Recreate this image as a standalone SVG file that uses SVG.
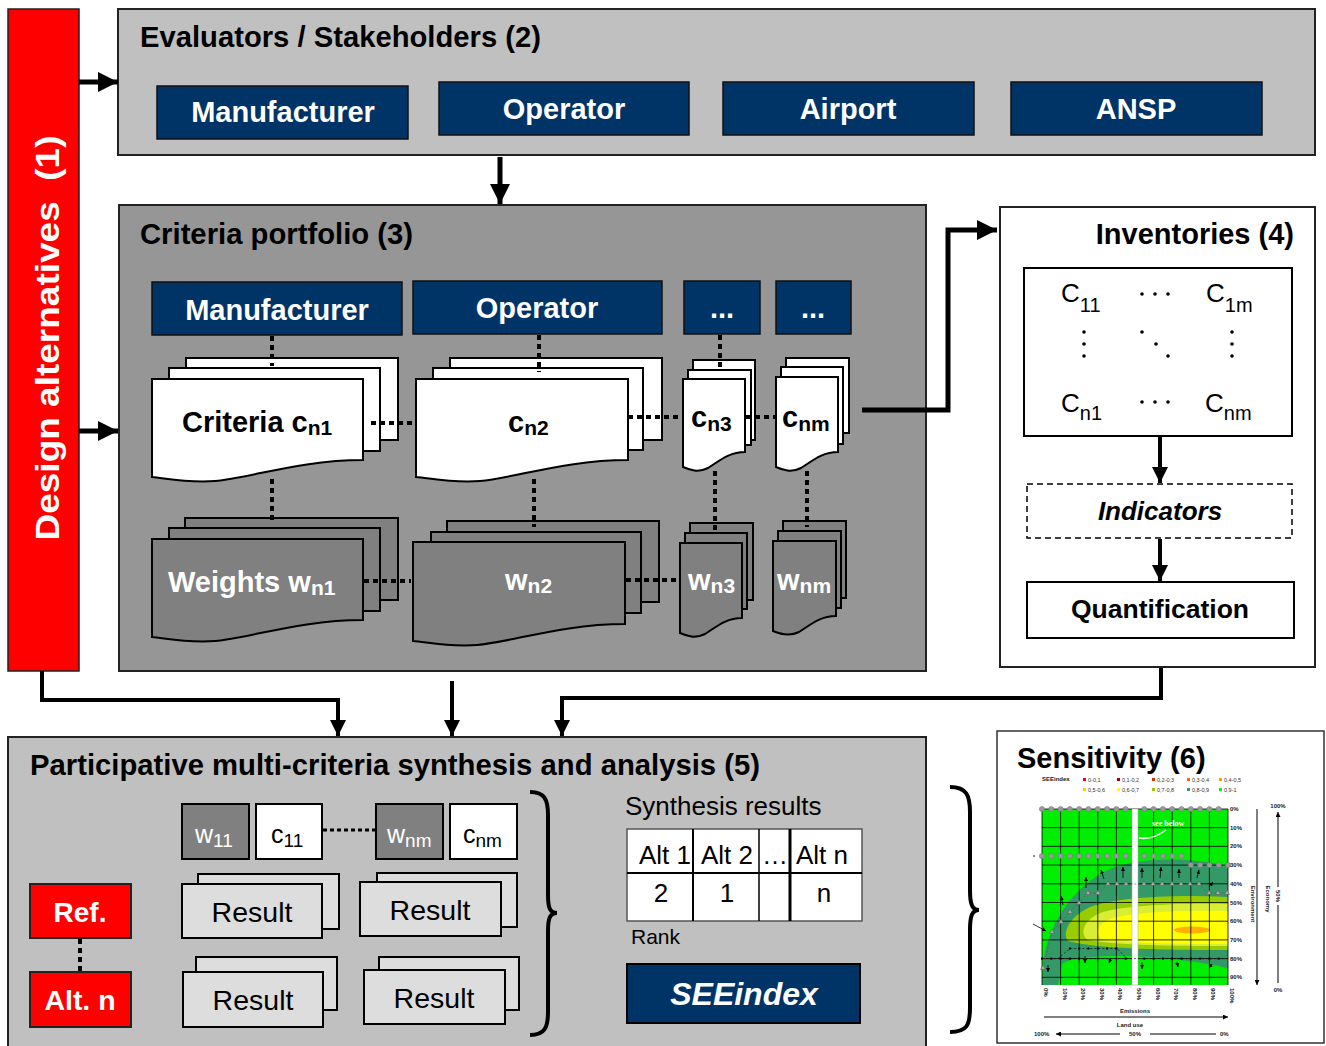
<svg xmlns="http://www.w3.org/2000/svg" width="1326" height="1046" viewBox="0 0 1326 1046">
<defs>
<style>
.t{font-family:"Liberation Sans",Arial,sans-serif}
.b{font-weight:bold}
.i{font-style:italic}
.w{fill:#fff}
.k{fill:#000}
.navy{fill:#003366;stroke:#111;stroke-width:1.5}
.conn{stroke:#000;stroke-width:5;fill:none}
.conn4{stroke:#000;stroke-width:4;fill:none}
.dot{stroke:#000;stroke-width:4;stroke-dasharray:5 4;fill:none}
.sw{fill:#fff;stroke:#000;stroke-width:2}
.sg{fill:#808080;stroke:#000;stroke-width:2}
.res{fill:#dddddd;stroke:#000;stroke-width:2}
.grid{stroke:#000;stroke-width:0.8;fill:none}
.tiny{font-family:"Liberation Sans",Arial,sans-serif;font-size:6px;font-weight:bold;fill:#222}
</style>
<marker id="ah" viewBox="0 0 10 10" refX="10" refY="5" markerWidth="4" markerHeight="4" orient="auto"><path d="M0,0 L10,5 L0,10 z" fill="#000"/></marker>
<marker id="sa" viewBox="0 0 10 10" refX="10" refY="5" markerWidth="5" markerHeight="5" orient="auto"><path d="M0,0 L10,5 L0,10 z" fill="#000"/></marker>
</defs>
<rect width="1326" height="1046" fill="#fff"/>

<!-- Design alternatives -->
<g id="design-alternatives">
<rect x="8" y="9" width="71" height="662" fill="#ff0000" stroke="#222" stroke-width="1.5"/>
<text class="t b w" font-size="34" text-anchor="middle" transform="translate(59,338) rotate(-90)" textLength="405" lengthAdjust="spacingAndGlyphs" xml:space="preserve">Design alternatives  (1)</text>
</g>

<!-- Evaluators -->
<g id="evaluators">
<rect x="118" y="9" width="1197" height="146" fill="#c0c0c0" stroke="#222" stroke-width="2"/>
<text class="t b" x="140" y="47" font-size="29" textLength="401" lengthAdjust="spacingAndGlyphs">Evaluators / Stakeholders (2)</text>
<g id="ev-manufacturer"><rect class="navy" x="157" y="86" width="251" height="53"/><text class="t b w" x="283" y="122" font-size="29" text-anchor="middle">Manufacturer</text></g>
<g id="ev-operator"><rect class="navy" x="439" y="82" width="250" height="53"/><text class="t b w" x="564" y="119" font-size="29" text-anchor="middle">Operator</text></g>
<g id="ev-airport"><rect class="navy" x="723" y="82" width="251" height="53"/><text class="t b w" x="848" y="119" font-size="29" text-anchor="middle">Airport</text></g>
<g id="ev-ansp"><rect class="navy" x="1011" y="82" width="251" height="53"/><text class="t b w" x="1136" y="119" font-size="29" text-anchor="middle">ANSP</text></g>
</g>

<!-- Criteria portfolio -->
<g id="criteria-portfolio">
<rect x="119" y="205" width="807" height="466" fill="#969696" stroke="#222" stroke-width="2"/>
<text class="t b" x="140" y="244" font-size="29" textLength="273" lengthAdjust="spacingAndGlyphs">Criteria portfolio (3)</text>
<g id="cp-manufacturer"><rect class="navy" x="152" y="282" width="250" height="53"/><text class="t b w" x="277" y="320" font-size="29" text-anchor="middle">Manufacturer</text></g>
<g id="cp-operator"><rect class="navy" x="413" y="281" width="249" height="53"/><text class="t b w" x="537" y="318" font-size="29" text-anchor="middle">Operator</text></g>
<g id="cp-more1"><rect class="navy" x="684" y="281" width="76" height="53"/><text class="t b w" x="722" y="318" font-size="29" text-anchor="middle">...</text></g>
<g id="cp-more2"><rect class="navy" x="776" y="281" width="75" height="53"/><text class="t b w" x="813" y="318" font-size="29" text-anchor="middle">...</text></g>
</g>

<!-- criteria documents -->
<g id="doc-cn1">
<rect class="sw" x="186" y="358" width="212" height="82"/>
<rect class="sw" x="169" y="368" width="211" height="83"/>
<path class="sw" d="M152,379 H363 V460 C300,460 250,478 215,481 C185,483 165,478 152,477 Z"/>
<text class="t b" x="182" y="432" font-size="29">Criteria c<tspan font-size="21" dy="3">n1</tspan></text>
</g>
<g id="doc-cn2">
<rect class="sw" x="450" y="358" width="212" height="82"/>
<rect class="sw" x="433" y="368" width="210" height="82"/>
<path class="sw" d="M416,379 H628 V460 C565,460 515,478 480,481 C450,483 430,478 416,477 Z"/>
<text class="t b" x="508" y="432" font-size="29">c<tspan font-size="21" dy="3">n2</tspan></text>
</g>
<g id="doc-cn3">
<rect class="sw" x="693" y="360" width="62" height="80"/>
<rect class="sw" x="688" y="370" width="63" height="75"/>
<path class="sw" d="M683,379 H745 V452 C728,452 718,462 708,468 C698,473 690,470 683,467 Z"/>
<text class="t b" x="691" y="427" font-size="29">c<tspan font-size="21" dy="4">n3</tspan></text>
</g>
<g id="doc-cnm">
<rect class="sw" x="786" y="358" width="63" height="75"/>
<rect class="sw" x="781" y="367" width="62" height="77"/>
<path class="sw" d="M776,377 H838 V452 C821,452 811,462 801,468 C791,473 783,470 776,467 Z"/>
<text class="t b" x="782" y="427" font-size="29">c<tspan font-size="21" dy="4">nm</tspan></text>
</g>
<g id="doc-wn1">
<rect class="sg" x="185" y="518" width="213" height="82"/>
<rect class="sg" x="169" y="528" width="211" height="83"/>
<path class="sg" d="M152,539 H363 V620 C300,620 250,638 215,641 C185,643 165,638 152,637 Z"/>
<text class="t b w" x="168" y="592" font-size="29">Weights w<tspan font-size="21" dy="3">n1</tspan></text>
</g>
<g id="doc-wn2">
<rect class="sg" x="447" y="521" width="212" height="81"/>
<rect class="sg" x="431" y="532" width="210" height="81"/>
<path class="sg" d="M413,542 H625 V624 C562,624 512,642 477,645 C447,647 427,642 413,641 Z"/>
<text class="t b w" x="505" y="590" font-size="29">w<tspan font-size="21" dy="3">n2</tspan></text>
</g>
<g id="doc-wn3">
<rect class="sg" x="690" y="523" width="63" height="77"/>
<rect class="sg" x="685" y="533" width="62" height="76"/>
<path class="sg" d="M680,543 H742 V618 C725,618 715,628 705,634 C695,639 687,636 680,633 Z"/>
<text class="t b w" x="688" y="590" font-size="29">w<tspan font-size="21" dy="3">n3</tspan></text>
</g>
<g id="doc-wnm">
<rect class="sg" x="783" y="521" width="63" height="77"/>
<rect class="sg" x="778" y="531" width="63" height="77"/>
<path class="sg" d="M773,541 H836 V616 C819,616 809,626 799,632 C789,637 780,634 773,631 Z"/>
<text class="t b w" x="777" y="590" font-size="29">w<tspan font-size="21" dy="3">nm</tspan></text>
</g>

<!-- Inventories -->
<g id="inventories">
<rect x="1000" y="207" width="315" height="460" fill="#fff" stroke="#222" stroke-width="2"/>
<text class="t b" x="1294" y="244" font-size="29" text-anchor="end">Inventories (4)</text>
<g id="inv-matrix">
<rect x="1024" y="268" width="268" height="168" fill="#fff" stroke="#000" stroke-width="2"/>
<text class="t" x="1061" y="302" font-size="26">C<tspan font-size="20" dy="10">11</tspan></text>
<text class="t" x="1206" y="302" font-size="26">C<tspan font-size="20" dy="10">1m</tspan></text>
<text class="t" x="1061" y="412" font-size="26">C<tspan font-size="20" dy="8">n1</tspan></text>
<text class="t" x="1205" y="412" font-size="26">C<tspan font-size="20" dy="8">nm</tspan></text>
<g fill="#000">
<circle cx="1142" cy="294" r="1.8"/><circle cx="1155" cy="294" r="1.8"/><circle cx="1168" cy="294" r="1.8"/>
<circle cx="1142" cy="402" r="1.8"/><circle cx="1155" cy="402" r="1.8"/><circle cx="1168" cy="402" r="1.8"/>
<circle cx="1084" cy="332" r="1.8"/><circle cx="1084" cy="344" r="1.8"/><circle cx="1084" cy="356" r="1.8"/>
<circle cx="1232" cy="332" r="1.8"/><circle cx="1232" cy="344" r="1.8"/><circle cx="1232" cy="356" r="1.8"/>
<circle cx="1142" cy="332" r="1.8"/><circle cx="1156" cy="344" r="1.8"/><circle cx="1168" cy="356" r="1.8"/>
</g>
</g>
<g id="inv-indicators">
<rect x="1027" y="484" width="265" height="54" fill="#fff" stroke="#000" stroke-width="1.5" stroke-dasharray="6 4"/>
<text class="t b i" x="1160" y="520" font-size="26" text-anchor="middle">Indicators</text>
</g>
<g id="inv-quantification">
<rect x="1027" y="582" width="267" height="56" fill="#fff" stroke="#000" stroke-width="2"/>
<text class="t b" x="1160" y="618" font-size="26.5" text-anchor="middle">Quantification</text>
</g>
</g>

<!-- Synthesis -->
<g id="synthesis">
<rect x="8" y="737" width="918" height="320" fill="#c0c0c0" stroke="#222" stroke-width="2"/>
<text class="t b" x="30" y="775" font-size="29" textLength="730" lengthAdjust="spacingAndGlyphs">Participative multi-criteria synthesis and analysis (5)</text>
<g id="syn-w11"><rect x="182" y="804" width="67" height="55" fill="#808080" stroke="#000" stroke-width="2"/><text class="t w" x="195" y="843" font-size="25">w<tspan font-size="19" dy="4">11</tspan></text></g>
<g id="syn-c11"><rect x="256" y="804" width="66" height="55" fill="#fff" stroke="#000" stroke-width="2"/><text class="t" x="271" y="843" font-size="25">c<tspan font-size="19" dy="4">11</tspan></text></g>
<g id="syn-wnm"><rect x="376" y="804" width="67" height="55" fill="#808080" stroke="#000" stroke-width="2"/><text class="t w" x="387" y="843" font-size="25">w<tspan font-size="19" dy="4">nm</tspan></text></g>
<g id="syn-cnm"><rect x="450" y="804" width="67" height="55" fill="#fff" stroke="#000" stroke-width="2"/><text class="t" x="463" y="843" font-size="25">c<tspan font-size="19" dy="4">nm</tspan></text></g>
<g id="syn-ref"><rect x="30" y="884" width="101" height="54" fill="#ff0000" stroke="#222" stroke-width="2"/><text class="t b w" x="80" y="922" font-size="28" text-anchor="middle">Ref.</text></g>
<g id="syn-altn"><rect x="30" y="972" width="101" height="55" fill="#ff0000" stroke="#222" stroke-width="2"/><text class="t b w" x="80" y="1010" font-size="28.5" text-anchor="middle">Alt. n</text></g>
<g id="syn-result1"><rect class="res" x="198" y="874" width="141" height="55"/><rect class="res" x="182" y="884" width="140" height="54"/><text class="t" x="252" y="922" font-size="28.5" text-anchor="middle">Result</text></g>
<g id="syn-result2"><rect class="res" x="377" y="873" width="140" height="54"/><rect class="res" x="360" y="882" width="141" height="54"/><text class="t" x="430" y="920" font-size="28.5" text-anchor="middle">Result</text></g>
<g id="syn-result3"><rect class="res" x="196" y="957" width="141" height="53"/><rect class="res" x="183" y="972" width="140" height="55"/><text class="t" x="253" y="1010" font-size="28.5" text-anchor="middle">Result</text></g>
<g id="syn-result4"><rect class="res" x="379" y="957" width="140" height="53"/><rect class="res" x="364" y="970" width="141" height="54"/><text class="t" x="434" y="1008" font-size="28.5" text-anchor="middle">Result</text></g>
<path d="M530,792 C545,792 548,800 548,815 L548,895 C548,908 550,913 557,913 C550,913 548,918 548,931 L548,1012 C548,1027 545,1035 530,1035" fill="none" stroke="#000" stroke-width="4"/>
<g id="syn-results">
<text class="t" x="625" y="815" font-size="26">Synthesis results</text>
<rect x="627" y="829" width="235" height="92" fill="#fff" stroke="#555" stroke-width="1.5"/>
<line x1="627" y1="873" x2="862" y2="873" stroke="#000" stroke-width="2"/>
<line x1="693" y1="829" x2="693" y2="921" stroke="#000" stroke-width="2"/>
<line x1="759" y1="829" x2="759" y2="921" stroke="#000" stroke-width="1.5"/>
<line x1="790" y1="829" x2="790" y2="921" stroke="#000" stroke-width="3"/>
<text class="t" x="665" y="864" font-size="26" text-anchor="middle">Alt 1</text>
<text class="t" x="727" y="864" font-size="26" text-anchor="middle">Alt 2</text>
<text class="t" x="775" y="864" font-size="26" text-anchor="middle">…</text>
<text class="t" x="822" y="864" font-size="26" text-anchor="middle">Alt n</text>
<text class="t" x="661" y="902" font-size="26" text-anchor="middle">2</text>
<text class="t" x="727" y="902" font-size="26" text-anchor="middle">1</text>
<text class="t" x="824" y="902" font-size="26" text-anchor="middle">n</text>
<text class="t" x="631" y="944" font-size="21">Rank</text>
</g>
<g id="syn-seeindex"><rect x="627" y="964" width="233" height="59" fill="#003366" stroke="#000" stroke-width="2"/><text class="t b i w" x="744" y="1005" font-size="32" text-anchor="middle">SEEindex</text></g>
</g>

<path d="M950,787 C967,787 970,796 970,812 L970,890 C970,904 972,910 979,910 C972,910 970,916 970,930 L970,1008 C970,1025 967,1032 950,1032" fill="none" stroke="#000" stroke-width="4"/>

<!-- dotted links -->
<g id="dotted-links">
<line class="dot" x1="272" y1="336" x2="272" y2="366"/>
<line class="dot" x1="539" y1="335" x2="539" y2="372"/>
<line class="dot" x1="720" y1="335" x2="720" y2="368"/>
<line class="dot" x1="272" y1="479" x2="272" y2="521"/>
<line class="dot" x1="534" y1="479" x2="534" y2="527"/>
<line class="dot" x1="715" y1="471" x2="715" y2="530"/>
<line class="dot" x1="807" y1="471" x2="807" y2="527"/>
<line class="dot" x1="371" y1="423" x2="414" y2="423"/>
<line class="dot" x1="628" y1="417" x2="683" y2="417"/>
<line class="dot" x1="746" y1="417" x2="776" y2="417"/>
<line class="dot" x1="364" y1="581" x2="411" y2="581"/>
<line class="dot" x1="626" y1="580" x2="680" y2="580"/>
<line x1="323" y1="830" x2="375" y2="830" stroke="#000" stroke-width="3" stroke-dasharray="4 3"/>
<line x1="80" y1="939" x2="80" y2="972" stroke="#000" stroke-width="4" stroke-dasharray="5 4"/>
</g>

<!-- Sensitivity -->
<g id="sensitivity">
<rect x="997" y="731" width="327" height="312" fill="#fff" stroke="#333" stroke-width="1.5"/>
<text class="t b" x="1017" y="768" font-size="29">Sensitivity (6)</text>
<g id="legend">
<text class="tiny" x="1042" y="781">SEEindex</text>
<g font-family="Liberation Sans,Arial,sans-serif" font-size="5.5" fill="#333">
<rect x="1083" y="778" width="3" height="3" fill="#ff0000"/><text x="1088" y="782">0-0,1</text>
<rect x="1117" y="778" width="3" height="3" fill="#990000"/><text x="1122" y="782">0,1-0,2</text>
<rect x="1152" y="778" width="3" height="3" fill="#cc3300"/><text x="1157" y="782">0,2-0,3</text>
<rect x="1187" y="778" width="3" height="3" fill="#ff6600"/><text x="1192" y="782">0,3-0,4</text>
<rect x="1219" y="778" width="3" height="3" fill="#ff9900"/><text x="1224" y="782">0,4-0,5</text>
<rect x="1083" y="788" width="3" height="3" fill="#ffcc00"/><text x="1088" y="792">0,5-0,6</text>
<rect x="1117" y="788" width="3" height="3" fill="#ffff00"/><text x="1122" y="792">0,6-0,7</text>
<rect x="1152" y="788" width="3" height="3" fill="#99cc00"/><text x="1157" y="792">0,7-0,8</text>
<rect x="1187" y="788" width="3" height="3" fill="#339966"/><text x="1192" y="792">0,8-0,9</text>
<rect x="1219" y="788" width="3" height="3" fill="#00ff00"/><text x="1224" y="792">0,9-1</text>
</g>
</g>
<rect x="1042" y="809" width="186" height="176" fill="#00ee00"/>
<path d="M1042,985 L1043,962 C1050,920 1075,885 1110,869 C1140,857 1190,857 1228,866 L1228,968 C1200,962 1160,956 1120,956 C1090,956 1070,958 1062,964 L1058,985 Z" fill="#339966"/>
<path d="M1228,897 C1170,894 1110,898 1088,908 C1068,918 1062,934 1068,941 C1100,950 1190,950 1228,950 Z" fill="#99cc00"/>
<path d="M1228,904 C1170,903 1115,906 1098,914 C1082,922 1080,935 1088,940 C1120,946 1190,946 1228,946 Z" fill="#d9ee33"/>
<path d="M1228,911 C1170,910 1125,913 1108,920 C1094,927 1096,936 1104,940 C1140,944 1200,944 1228,944 Z" fill="#ffff00"/>
<ellipse cx="1192" cy="930" rx="18" ry="3.5" fill="#ffb000"/>
<g class="grid">
<path d="M1042,809V985M1060.6,809V985M1079.2,809V985M1097.8,809V985M1116.4,809V985M1135,809V985M1153.6,809V985M1172.2,809V985M1190.8,809V985M1209.4,809V985M1228,809V985"/>
<path d="M1042,809H1228M1042,827.7H1228M1042,846.4H1228M1042,865.1H1228M1042,883.8H1228M1042,902.5H1228M1042,921.2H1228M1042,939.9H1228M1042,958.6H1228M1042,977.3H1228"/>
</g>
<rect x="1132" y="809" width="6" height="176" fill="#fff" stroke="#aaa" stroke-width="0.5"/>
<text x="1152" y="826" font-family="Liberation Serif,serif" font-size="8" font-weight="bold" fill="#fff">see below</text>
<path d="M1139,838 C1150,840 1158,836 1166,830" stroke="#fff" stroke-width="1.5" fill="none"/>
<g fill="#999" stroke="#777" stroke-width="0.5">
<circle cx="1042" cy="809" r="2.6"/><circle cx="1051.3" cy="809" r="2.6"/><circle cx="1060.6" cy="809" r="2.6"/><circle cx="1069.9" cy="809" r="2.6"/><circle cx="1079.2" cy="809" r="2.6"/><circle cx="1088.5" cy="809" r="2.6"/><circle cx="1097.8" cy="809" r="2.6"/><circle cx="1107.1" cy="809" r="2.6"/><circle cx="1116.4" cy="809" r="2.6"/><circle cx="1125.7" cy="809" r="2.6"/><circle cx="1144.3" cy="809" r="2.6"/><circle cx="1153.6" cy="809" r="2.6"/><circle cx="1162.9" cy="809" r="2.6"/><circle cx="1172.2" cy="809" r="2.6"/><circle cx="1181.5" cy="809" r="2.6"/><circle cx="1190.8" cy="809" r="2.6"/><circle cx="1200.1" cy="809" r="2.6"/><circle cx="1209.4" cy="809" r="2.6"/><circle cx="1218.7" cy="809" r="2.6"/>
<circle cx="1042" cy="856" r="2.6"/><circle cx="1051.3" cy="856" r="2.6"/><circle cx="1060.6" cy="856" r="2.6"/><circle cx="1069.9" cy="856" r="2.6"/><circle cx="1079.2" cy="856" r="2.6"/><circle cx="1088.5" cy="856" r="2.6"/><circle cx="1097.8" cy="856" r="2.6"/><circle cx="1107.1" cy="856" r="2.6"/><circle cx="1116.4" cy="856" r="2.6"/><circle cx="1125.7" cy="856" r="2.6"/><circle cx="1144.3" cy="856" r="2.6"/><circle cx="1153.6" cy="856" r="2.6"/><circle cx="1162.9" cy="856" r="2.6"/><circle cx="1172.2" cy="856" r="2.6"/><circle cx="1181.5" cy="856" r="2.6"/>
<circle cx="1190.8" cy="865" r="2.6"/><circle cx="1200.1" cy="865" r="2.6"/><circle cx="1209.4" cy="865" r="2.6"/><circle cx="1218.7" cy="865" r="2.6"/><circle cx="1228" cy="865" r="2.6"/>
</g>
<polyline points="1043,968 1052,932 1061,922 1070,912 1079,903 1088,893 1098,893 1108,884 1199,884 1208,893 1228,893" fill="none" stroke="#555" stroke-width="0.6" stroke-dasharray="2 2"/>
<g fill="#aaa" stroke="#555" stroke-width="0.5">
<path d="M1043,965l2.5,4.5h-5z"/><path d="M1052,929l2.5,4.5h-5z"/><path d="M1061,919l2.5,4.5h-5z"/><path d="M1070,909l2.5,4.5h-5z"/><path d="M1079,900l2.5,4.5h-5z"/><path d="M1088,890l2.5,4.5h-5z"/><path d="M1098,890l2.5,4.5h-5z"/><path d="M1108,881l2.5,4.5h-5z"/><path d="M1117,881l2.5,4.5h-5z"/><path d="M1126,881l2.5,4.5h-5z"/><path d="M1144,881l2.5,4.5h-5z"/><path d="M1153,881l2.5,4.5h-5z"/><path d="M1162,881l2.5,4.5h-5z"/><path d="M1172,881l2.5,4.5h-5z"/><path d="M1181,881l2.5,4.5h-5z"/><path d="M1190,881l2.5,4.5h-5z"/><path d="M1199,881l2.5,4.5h-5z"/><path d="M1209,890l2.5,4.5h-5z"/><path d="M1218,890l2.5,4.5h-5z"/><path d="M1227,890l2.5,4.5h-5z"/>
</g>
<g stroke="#000" stroke-width="0.8" marker-end="url(#sa)">
<line x1="1063" y1="905" x2="1061" y2="896"/><line x1="1086" y1="888" x2="1086" y2="877"/><line x1="1104" y1="879" x2="1101" y2="870"/><line x1="1123" y1="878" x2="1123" y2="867"/><line x1="1142" y1="878" x2="1142" y2="868"/><line x1="1160" y1="878" x2="1161" y2="867"/><line x1="1179" y1="878" x2="1179" y2="869"/><line x1="1197" y1="878" x2="1199" y2="870"/><line x1="1209" y1="887" x2="1213" y2="882"/>
<line x1="1048" y1="965" x2="1048" y2="972"/><line x1="1085" y1="956" x2="1085" y2="963"/><line x1="1111" y1="958" x2="1109" y2="963"/><line x1="1142" y1="962" x2="1142" y2="969"/><line x1="1177" y1="962" x2="1178" y2="967"/><line x1="1212" y1="964" x2="1209" y2="968"/>
<line x1="1033" y1="924" x2="1046" y2="931"/>
</g>
<polyline points="1042,958.6 1228,958.6" stroke="#000" stroke-width="0.6" stroke-dasharray="2 2" fill="none"/>
<polyline points="1058,958.6 1070,948.5 1117,948.5 1127,958.6" stroke="#000" stroke-width="0.6" stroke-dasharray="2 2" fill="none"/>
<g fill="#000">
<rect x="1041" y="957.6" width="2" height="2"/><rect x="1050.3" y="957.6" width="2" height="2"/><rect x="1059.6" y="957.6" width="2" height="2"/><rect x="1068.9" y="957.6" width="2" height="2"/><rect x="1078.2" y="957.6" width="2" height="2"/><rect x="1124.7" y="957.6" width="2" height="2"/><rect x="1143.3" y="957.6" width="2" height="2"/><rect x="1152.6" y="957.6" width="2" height="2"/><rect x="1161.9" y="957.6" width="2" height="2"/><rect x="1171.2" y="957.6" width="2" height="2"/><rect x="1180.5" y="957.6" width="2" height="2"/><rect x="1189.8" y="957.6" width="2" height="2"/><rect x="1199.1" y="957.6" width="2" height="2"/><rect x="1208.4" y="957.6" width="2" height="2"/><rect x="1217.7" y="957.6" width="2" height="2"/>
<rect x="1069" y="947.5" width="2" height="2"/><rect x="1078.2" y="947.5" width="2" height="2"/><rect x="1087.5" y="947.5" width="2" height="2"/><rect x="1096.8" y="947.5" width="2" height="2"/><rect x="1106.1" y="947.5" width="2" height="2"/><rect x="1115.4" y="947.5" width="2" height="2"/>
<circle cx="1034" cy="856" r="0.8"/>
</g>
<g class="tiny" font-size="5.5">
<text x="1230" y="811">0%</text><text x="1230" y="830">10%</text><text x="1230" y="848">20%</text><text x="1230" y="867">30%</text><text x="1230" y="886">40%</text><text x="1230" y="905">50%</text><text x="1230" y="923">60%</text><text x="1230" y="942">70%</text><text x="1230" y="961">80%</text><text x="1230" y="979">90%</text>
</g>
<g class="tiny" font-size="5.5">
<text transform="translate(1044,988) rotate(90)">0%</text><text transform="translate(1062.6,988) rotate(90)">10%</text><text transform="translate(1081.2,988) rotate(90)">20%</text><text transform="translate(1099.8,988) rotate(90)">30%</text><text transform="translate(1118.4,988) rotate(90)">40%</text><text transform="translate(1137,988) rotate(90)">50%</text><text transform="translate(1155.6,988) rotate(90)">60%</text><text transform="translate(1174.2,988) rotate(90)">70%</text><text transform="translate(1192.8,988) rotate(90)">80%</text><text transform="translate(1211.4,988) rotate(90)">90%</text><text transform="translate(1230,988) rotate(90)">100%</text>
</g>
<text class="tiny" x="1135" y="1013" text-anchor="middle">Emissions</text>
<line x1="1044" y1="1017" x2="1228" y2="1017" stroke="#000" stroke-width="1" marker-end="url(#sa)"/>
<text class="tiny" x="1130" y="1027" text-anchor="middle">Land use</text>
<text class="tiny" x="1034" y="1036">100%</text>
<line x1="1120" y1="1034" x2="1056" y2="1034" stroke="#000" stroke-width="1" marker-end="url(#sa)"/>
<text class="tiny" x="1135" y="1036" text-anchor="middle">50%</text>
<line x1="1150" y1="1034" x2="1216" y2="1034" stroke="#000" stroke-width="1"/>
<text class="tiny" x="1220" y="1036" fill="#777">0%</text>
<text class="tiny" transform="translate(1251,904) rotate(90)" text-anchor="middle">Environment</text>
<line x1="1257" y1="809" x2="1257" y2="985" stroke="#000" stroke-width="1" marker-end="url(#sa)"/>
<text class="tiny" transform="translate(1266,899) rotate(90)" text-anchor="middle">Economy</text>
<line x1="1278" y1="983" x2="1278" y2="905" stroke="#000" stroke-width="1"/>
<line x1="1278" y1="887" x2="1278" y2="812" stroke="#000" stroke-width="1" marker-end="url(#sa)"/>
<text class="tiny" transform="translate(1276,896) rotate(90)" text-anchor="middle">50%</text>
<text class="tiny" x="1278" y="808" text-anchor="middle">100%</text>
<text class="tiny" x="1278" y="992" text-anchor="middle">0%</text>
</g>

<!-- Connectors -->
<g id="connectors">
<line class="conn" x1="79" y1="82" x2="118" y2="82" marker-end="url(#ah)"/>
<line class="conn" x1="79" y1="431" x2="118" y2="431" marker-end="url(#ah)"/>
<line class="conn" x1="500" y1="157" x2="500" y2="204" marker-end="url(#ah)"/>
<polyline class="conn" points="862,410 948,410 948,230 997,230" marker-end="url(#ah)"/>
<line class="conn4" x1="1160" y1="437" x2="1160" y2="483" marker-end="url(#ah)"/>
<line class="conn4" x1="1160" y1="539" x2="1160" y2="581" marker-end="url(#ah)"/>
<polyline class="conn4" points="42,671 42,700 338,700 338,736" marker-end="url(#ah)"/>
<line class="conn4" x1="452" y1="681" x2="452" y2="736" marker-end="url(#ah)"/>
<polyline class="conn4" points="1161,668 1161,698 562,698 562,736" marker-end="url(#ah)"/>
</g>
</svg>
